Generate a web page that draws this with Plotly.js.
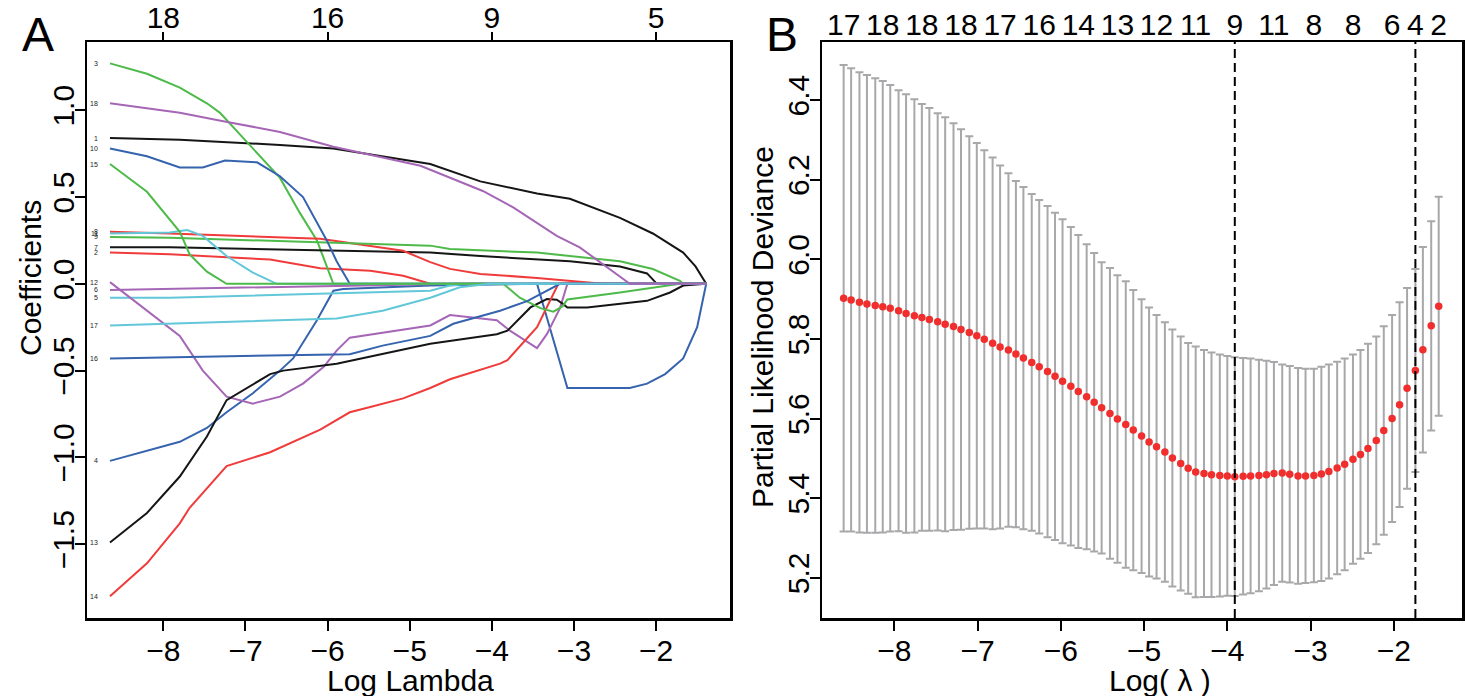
<!DOCTYPE html>
<html><head><meta charset="utf-8">
<script src="https://cdn.plot.ly/plotly-3.0.1.min.js"></script>
<style>html,body{margin:0;padding:0;background:#fff;}#chart{width:1465px;height:696px;}</style>
</head><body><div id="chart"></div>
<script>
// ---------- Panel A : coefficient paths ----------
const xTicksA = [-8, -7, -6, -5, -4, -3, -2];
const topTicksA = [-8, -6, -4, -2];
const topLabelsA = ['18', '16', '9', '5'];
const yTicksA = [-1.5, -1.0, -0.5, 0.0, 0.5, 1.0];

const v1x = [-8.65,-7.80,-6.58,-5.93,-4.75,-4.14,-3.45,-3.05,-2.44,-2.04,-1.67,-1.52,-1.39];
const v1y = [0.84,0.83,0.80,0.78,0.69,0.59,0.52,0.49,0.38,0.29,0.18,0.10,0];
const v2x = [-8.65,-7.92,-6.70,-6.09,-5.48,-5.08,-4.75,-1.39];
const v2y = [0.18,0.17,0.14,0.09,0.075,0.046,0,0];
const v3x = [-8.65,-8.20,-7.80,-7.47,-7.31,-7.07,-6.82,-6.58,-6.34,-6.13,-5.93,-1.39];
const v3y = [1.27,1.21,1.13,1.04,0.985,0.86,0.735,0.61,0.41,0.25,0,0];
const v4x = [-8.65,-8.20,-7.80,-7.47,-7.23,-6.91,-6.58,-6.42,-6.13,-5.93,-5.81,-4.75,-3.45,-3.08,-2.32,-2.11,-1.89,-1.67,-1.50,-1.39];
const v4y = [-1.02,-0.96,-0.91,-0.83,-0.74,-0.63,-0.50,-0.43,-0.21,-0.04,-0.03,-0.01,0,-0.60,-0.60,-0.575,-0.52,-0.43,-0.25,0];
const v5x = [-8.65,-7.92,-4.75,-4.51,-4.27,-1.39];
const v5y = [-0.08,-0.08,-0.04,-0.01,0,0];
const v6x = [-8.65,-6.58,-4.75,-4.39,-1.39];
const v6y = [-0.035,-0.02,-0.005,0,0];
const v7x = [-8.65,-7.92,-4.75,-4.14,-3.05,-2.44,-2.11,-1.99,-1.39];
const v7y = [0.21,0.21,0.18,0.16,0.13,0.10,0.06,0,0];
const v8x = [-8.65,-7.92,-6.09,-5.08,-4.75,-4.51,-4.14,-3.45,-2.65,-1.39];
const v8y = [0.30,0.29,0.26,0.19,0.125,0.086,0.057,0.034,0,0];
const v9x = [-8.65,-7.92,-4.75,-4.51,-3.45,-2.44,-2.04,-1.71,-1.67,-1.39];
const v9y = [0.27,0.265,0.22,0.20,0.18,0.13,0.085,0.017,0,0];
const v10x = [-8.65,-8.20,-7.80,-7.52,-7.25,-6.86,-6.58,-6.30,-6.01,-5.89,-5.73,-1.39];
const v10y = [0.78,0.735,0.67,0.67,0.71,0.70,0.62,0.50,0.25,0.13,0,0];
const v11x = [-8.65,-7.92,-7.71,-7.52,-7.23,-6.91,-6.62,-1.39];
const v11y = [0.29,0.295,0.31,0.276,0.16,0.065,0,0];
const v12x = [-8.65,-8.20,-7.80,-7.52,-7.23,-6.91,-6.58,-6.30,-6.05,-5.89,-5.73,-4.75,-4.51,-3.94,-3.78,-3.45,-3.33,-3.17,-3.08,-1.39];
const v12y = [0.01,-0.155,-0.30,-0.50,-0.65,-0.69,-0.65,-0.575,-0.48,-0.385,-0.31,-0.24,-0.18,-0.21,-0.27,-0.37,-0.29,-0.14,0,0];
const v13x = [-8.65,-8.20,-7.80,-7.47,-7.23,-6.70,-6.54,-5.89,-4.75,-3.94,-3.81,-3.53,-3.33,-3.21,-3.13,-3.08,-2.84,-2.11,-1.83,-1.67,-1.39];
const v13y = [-1.49,-1.32,-1.11,-0.88,-0.67,-0.52,-0.50,-0.46,-0.345,-0.29,-0.27,-0.136,-0.088,-0.092,-0.117,-0.136,-0.136,-0.098,-0.05,-0.01,0];
const v14x = [-8.65,-8.20,-7.80,-7.68,-7.23,-6.70,-6.09,-5.73,-5.48,-5.08,-4.75,-4.51,-3.90,-3.81,-3.45,-3.19,-1.39];
const v14y = [-1.80,-1.61,-1.38,-1.29,-1.05,-0.97,-0.84,-0.74,-0.71,-0.66,-0.60,-0.55,-0.46,-0.44,-0.25,0,0];
const v15x = [-8.65,-8.20,-7.80,-7.68,-7.47,-7.23,-3.86,-3.66,-3.41,-3.25,-3.14,-3.08,-2.44,-1.71,-1.39];
const v15y = [0.69,0.53,0.30,0.17,0.07,0,0,-0.08,-0.14,-0.16,-0.13,-0.09,-0.05,0,0];
const v16x = [-8.65,-6.58,-5.73,-5.33,-4.75,-4.47,-3.90,-3.57,-3.17,-1.39];
const v16y = [-0.43,-0.415,-0.405,-0.356,-0.30,-0.23,-0.155,-0.10,0,0];
const v17x = [-8.65,-7.92,-5.89,-5.33,-4.75,-4.39,-4.02,-1.39];
const v17y = [-0.24,-0.23,-0.20,-0.155,-0.08,-0.02,0,0];
const v18x = [-8.65,-7.80,-7.27,-6.58,-5.93,-4.87,-4.11,-3.74,-3.21,-2.93,-2.32,-1.39];
const v18y = [1.04,0.985,0.937,0.875,0.79,0.68,0.535,0.44,0.276,0.21,0,0];

const pathX = [v1x,v2x,v3x,v4x,v5x,v6x,v7x,v8x,v9x,v10x,v11x,v12x,v13x,v14x,v15x,v16x,v17x,v18x];
const pathY = [v1y,v2y,v3y,v4y,v5y,v6y,v7y,v8y,v9y,v10y,v11y,v12y,v13y,v14y,v15y,v16y,v17y,v18y];
const palette = ['#151515','#f03b3b','#4dba4a','#3563ae','#62c7d9','#a566b6'];

// ---------- Panel B : cross-validation curve ----------
const logLambda = [-8.61,-8.52,-8.42,-8.33,-8.23,-8.14,-8.05,-7.95,-7.86,-7.76,
  -7.67,-7.58,-7.48,-7.39,-7.29,-7.20,-7.10,-7.01,-6.92,-6.82,
  -6.73,-6.63,-6.54,-6.45,-6.35,-6.26,-6.16,-6.07,-5.98,-5.88,
  -5.79,-5.69,-5.60,-5.51,-5.41,-5.32,-5.22,-5.13,-5.03,-4.94,
  -4.85,-4.75,-4.66,-4.56,-4.47,-4.38,-4.28,-4.19,-4.09,-4.00,
  -3.91,-3.81,-3.72,-3.62,-3.53,-3.44,-3.34,-3.25,-3.15,-3.06,
  -2.96,-2.87,-2.78,-2.68,-2.59,-2.49,-2.40,-2.31,-2.21,-2.12,
  -2.02,-1.93,-1.84,-1.74,-1.65,-1.55,-1.46];
const cvm = [5.902,5.898,5.892,5.888,5.884,5.881,5.877,5.871,5.864,5.858,
  5.854,5.849,5.843,5.837,5.831,5.824,5.816,5.808,5.799,5.789,
  5.780,5.772,5.762,5.752,5.741,5.730,5.718,5.706,5.694,5.681,
  5.668,5.655,5.641,5.627,5.613,5.599,5.585,5.571,5.556,5.541,
  5.529,5.516,5.501,5.487,5.475,5.466,5.462,5.459,5.457,5.456,
  5.454,5.455,5.456,5.457,5.459,5.462,5.463,5.460,5.456,5.456,
  5.457,5.461,5.467,5.476,5.485,5.498,5.510,5.525,5.545,5.570,
  5.600,5.635,5.676,5.721,5.773,5.833,5.882];
const cvsd = [0.586,0.582,0.578,0.575,0.571,0.567,0.561,0.554,0.551,0.544,
  0.536,0.531,0.524,0.520,0.511,0.503,0.493,0.484,0.475,0.467,
  0.456,0.444,0.435,0.430,0.423,0.419,0.416,0.411,0.407,0.400,
  0.393,0.383,0.375,0.366,0.365,0.361,0.360,0.352,0.344,0.338,
  0.331,0.326,0.323,0.319,0.315,0.315,0.310,0.307,0.304,0.301,
  0.300,0.297,0.295,0.291,0.286,0.280,0.273,0.272,0.271,0.269,
  0.268,0.269,0.269,0.267,0.266,0.263,0.262,0.263,0.261,0.262,
  0.260,0.257,0.252,0.255,0.258,0.263,0.275];
const topIdxB = [0,5,10,15,20,25,30,35,40,45,50,55,60,65,70,73,76];
const nzB = ['17','18','18','18','17','16','14','13','12','11','9','11','8','8','6','4','2'];
const xTicksB = [-8, -7, -6, -5, -4, -3, -2];
const yTicksB = [5.2, 5.4, 5.6, 5.8, 6.0, 6.2, 6.4];

// ---------- geometry helpers ----------
const W = 1465, H = 696, ML = 87, MR = 3, MT = 42, MB = 78;
const PW = W - ML - MR, PH = H - MT - MB;
const px2x = p => (p - ML) / PW;
const py2y = p => (H - MB - p) / PH;
const FONT = '"Liberation Sans",Arial,sans-serif';
const TS = 30;

// lambda.min and lambda.1se from the curve
let iMin = 0;
cvm.forEach((v, i) => { if (v < cvm[iMin]) iMin = i; });
const thr = cvm[iMin] + cvsd[iMin];
let i1se = iMin;
cvm.forEach((v, i) => { if (i > iMin && v <= thr) i1se = i; });

const traces = [];
pathX.forEach((xs, k) => {
  traces.push({x: xs, y: pathY[k], xaxis: 'x', yaxis: 'y', mode: 'lines',
    line: {color: palette[k % 6], width: 2}, hoverinfo: 'skip', showlegend: false});
});
traces.push({x: topTicksA, y: topTicksA.map(() => 0), xaxis: 'x3', yaxis: 'y', mode: 'markers',
  marker: {opacity: 0}, hoverinfo: 'skip', showlegend: false});
traces.push({x: logLambda, y: cvm, xaxis: 'x2', yaxis: 'y2', mode: 'markers',
  marker: {color: '#f02e2e', size: 7.5},
  error_y: {type: 'data', array: cvsd, visible: true, color: '#a8a8aa', thickness: 2, width: 4},
  hoverinfo: 'skip', showlegend: false});
traces.push({x: topIdxB.map(i => logLambda[i]), y: topIdxB.map(() => 5.6), xaxis: 'x4', yaxis: 'y2',
  mode: 'markers', marker: {opacity: 0}, hoverinfo: 'skip', showlegend: false});

const axBase = {showgrid: false, zeroline: false, showline: true, linecolor: '#000', linewidth: 2.5,
  ticks: 'outside', ticklen: 10, tickwidth: 2, tickcolor: '#000', tickangle: 0,
  tickfont: {family: FONT, size: TS, color: '#000'}};

const annotations = [];
pathX.forEach((xs, k) => {
  annotations.push({x: xs[0], y: pathY[k][0], xref: 'x', yref: 'y', text: String(k + 1),
    showarrow: false, xanchor: 'right', yanchor: 'middle', xshift: -10,
    font: {family: FONT, size: 7, color: '#222'}});
});
function note(px, py, text, size, angle) {
  annotations.push({x: px2x(px), y: py2y(py), xref: 'paper', yref: 'paper', text: text,
    showarrow: false, xanchor: 'center', yanchor: 'middle', textangle: angle || 0,
    font: {family: FONT, size: size, color: '#000'}});
}
note(38, 34, 'A', 48);
note(782, 34, 'B', 48);
note(30, 278, 'Coefficients', TS, -90);
note(410, 680, 'Log Lambda', TS);
note(762, 327, 'Partial Likelihood Deviance', TS, -90);
note(1160, 680, 'Log( λ )', TS);

const layout = {
  width: W, height: H, margin: {l: ML, r: MR, t: MT, b: MB},
  paper_bgcolor: '#fff', plot_bgcolor: '#fff', showlegend: false,
  xaxis: Object.assign({}, axBase, {domain: [0, px2x(730)], range: [-8.93, -1.10], anchor: 'y',
    tickvals: xTicksA, mirror: true, ticklabelstandoff: -6}),
  xaxis3: Object.assign({}, axBase, {overlaying: 'x', side: 'top', anchor: 'y', range: [-8.93, -1.10],
    tickvals: topTicksA, ticktext: topLabelsA, showline: false, ticklen: 9, ticklabelstandoff: -8}),
  yaxis: Object.assign({}, axBase, {domain: [0, 1], range: [-1.925, 1.393], anchor: 'x',
    tickvals: yTicksA, tickformat: '.1f', tickangle: -90, mirror: true, ticklabelstandoff: -11}),
  xaxis2: Object.assign({}, axBase, {domain: [px2x(822), 1], range: [-8.87, -1.18], anchor: 'y2',
    tickvals: xTicksB, mirror: true, ticklabelstandoff: -6}),
  xaxis4: Object.assign({}, axBase, {overlaying: 'x2', side: 'top', anchor: 'y2', range: [-8.87, -1.18],
    tickvals: topIdxB.map(i => logLambda[i]), ticktext: nzB, showline: false, ticks: '', ticklen: 0}),
  yaxis2: Object.assign({}, axBase, {domain: [0, 1], range: [5.099, 6.546], anchor: 'x2',
    tickvals: yTicksB, tickformat: '.1f', tickangle: -90, mirror: true, ticklabelstandoff: -11}),
  shapes: [iMin, i1se].map(i => ({type: 'line', xref: 'x2', yref: 'paper', x0: logLambda[i], x1: logLambda[i],
    y0: 0, y1: 1, line: {color: '#000', width: 2, dash: '9px,5px'}})),
  annotations: annotations
};

Plotly.newPlot('chart', traces, layout, {staticPlot: true, displayModeBar: false});
</script></body></html>
